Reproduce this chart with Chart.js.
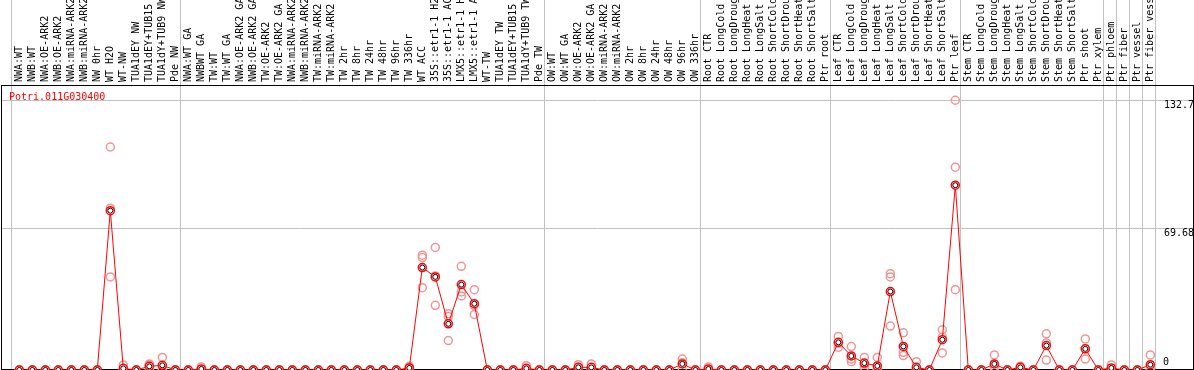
<!DOCTYPE html>
<html><head><meta charset="utf-8">
<script src="https://cdn.jsdelivr.net/npm/chart.js@4/dist/chart.umd.min.js"></script>
<style>html,body{margin:0;padding:0;background:#fff;overflow:hidden}canvas{display:block}</style>
</head><body>
<canvas id="c" width="1194" height="370"></canvas>
<script>
const geneName = 'Potri.011G030400';

const categories = [
  'NWA:WT','NWB:WT','NWA:OE-ARK2','NWB:OE-ARK2','NWA:miRNA-ARK2','NWB:miRNA-ARK2','NW 0hr','WT H2O','WT-NW','TUA1dEY NW','TUA1dEY+TUB15 NW','TUA1dY+TUB9 NW','Pde NW',
  'NWA:WT GA','NWBWT GA','TW:WT','TW:WT GA','NWA:OE-ARK2 GA','NWB:OE-ARK2 GA','TW:OE-ARK2','TW:OE-ARK2 GA','NWA:miRNA-ARK2','NWB:miRNA-ARK2','TW:miRNA-ARK2','TW:miRNA-ARK2 GA','TW 2hr','TW 8hr','TW 24hr','TW 48hr','TW 96hr','TW 336hr','WT ACC','35S::etr1-1 H2O','35S::etr1-1 ACC','LMX5::etr1-1 H2O','LMX5::etr1-1 ACC','WT-TW','TUA1dEY TW','TUA1dEY+TUB15 TW','TUA1dY+TUB9 TW','Pde TW',
  'OW:WT','OW:WT GA','OW:OE-ARK2','OW:OE-ARK2 GA','OW:miRNA-ARK2','OW:miRNA-ARK2 GA','OW 2hr','OW 8hr','OW 24hr','OW 48hr','OW 96hr','OW 336hr',
  'Root CTR','Root LongCold','Root LongDrought','Root LongHeat','Root LongSalt','Root ShortCold','Root ShortDrought','Root ShortHeat','Root ShortSalt','Ptr root',
  'Leaf CTR','Leaf LongCold','Leaf LongDrought','Leaf LongHeat','Leaf LongSalt','Leaf ShortCold','Leaf ShortDrought','Leaf ShortHeat','Leaf ShortSalt','Ptr leaf',
  'Stem CTR','Stem LongCold','Stem LongDrought','Stem LongHeat','Stem LongSalt','Stem ShortCold','Stem ShortDrought','Stem ShortHeat','Stem ShortSalt','Ptr shoot','Ptr xylem',
  'Ptr phloem','Ptr fiber','Ptr vessel','Ptr fiber vessel'
];

const meanValues = [
  0,0,0,0,0,0,0,78.4,0.8,0,1.8,2.3,0,
  0,0.5,0,0,0,0,0,0,0,0,0,0,0,0,0,0,0,1.0,50.4,45.8,22.7,42.0,32.6,0,0,0,0.8,0,
  0,0,1.3,1.3,0,0,0,0,0,0,3.0,0,
  0.5,0,0,0,0,0,0,0,0,0,
  13.6,6.9,3.4,2.0,38.6,11.6,1.3,0,14.9,90.9,
  0,0,3.0,0,1.3,0,12.0,0,0,10.4,0,
  1.0,0,0,2.6
];

const rep1 = [
  0,0,0,0,0,0,0,109.7,2.5,0,3.0,6.2,0,
  0,1.5,0,0,0,0,0,0,0,0,0,0,0,0,0,0,0,1.8,56.5,60.3,27.7,51.0,39.5,0,0,0,2.1,0,
  0,0,2.6,3.0,0,0,0,0,0,0,5.4,0,
  1.5,0,0,0,0,0,0,0,0,0,
  16.5,11.5,6.2,6.2,47.4,18.3,4.1,0,19.8,132.7,
  0,0,7.4,0,1.9,0,17.8,0,0,15.3,0,
  2.5,0,0,7.4
];
const rep2 = [
  0,0,0,0,0,0,0,79.6,0,0,2.4,0.6,0,
  0,0,0,0,0,0,0,0,0,0,0,0,0,0,0,0,0,1.2,55.3,46.3,26.3,38.4,31.8,0,0,0,0.3,0,
  0,0,1.3,0.9,0,0,0,0,0,0,3.6,0,
  0,0,0,0,0,0,0,0,0,0,
  13.1,5.4,2.8,0,45.8,8.7,0,0,16.1,99.8,
  0,0,1.6,0,1.3,0,13.3,0,0,10.4,0,
  0.5,0,0,0.4
];
const rep3 = [
  0,0,0,0,0,0,0,45.8,0,0,0,0,0,
  0,0,0,0,0,0,0,0,0,0,0,0,0,0,0,0,0,0,40.5,31.8,14.5,36.4,27.3,0,0,0,0,0,
  0,0,0,0,0,0,0,0,0,0,0,0,
  0,0,0,0,0,0,0,0,0,0,
  11.2,4.1,1.3,0,21.6,7.1,0,0,8.4,39.5,
  0,0,0,0,0.7,0,4.9,0,0,5.4,0,
  0,0,0,0
];

const yTickValues = [69.68, 132.7];
const yZeroTick = [0];
const groupStarts = [0,13,41,53,63,73,84,85,86,87,88];

const X_MIN = -1.408, X_MAX = 90.36, GRID_SHIFT = 0.63, LABEL_SHIFT = -0.92;
const Y_MIN = 0, Y_MAX = 140.2;
const MONO = "'DejaVu Sans Mono', monospace";

const pts = arr => arr.map((v, i) => ({x: i, y: v}));
const noPad = s => { s.paddingLeft = 0; s.paddingRight = 0; s.paddingTop = 0; s.paddingBottom = 0; };
const alignPx = p => Math.round(p - 0.5) + 0.5;

const decor = {
  id: 'decor',
  beforeDatasetsDraw(chart) {
    const {ctx, chartArea: a, scales} = chart;
    ctx.save();
    ctx.strokeStyle = '#c0c0c0';
    ctx.lineWidth = 1;
    groupStarts.forEach(g => {
      const px = alignPx(scales.x.getPixelForValue(g - GRID_SHIFT));
      ctx.beginPath(); ctx.moveTo(px, 0); ctx.lineTo(px, a.top); ctx.stroke();
    });
    ctx.strokeStyle = '#000';
    ctx.strokeRect(a.left + 0.5, a.top + 0.5, a.right - a.left - 1, a.bottom - a.top - 1);
    ctx.restore();
  },
  afterDraw(chart) {
    const {ctx, chartArea: a} = chart;
    ctx.save();
    ctx.fillStyle = '#ff0000';
    ctx.font = '10px ' + MONO;
    ctx.textBaseline = 'alphabetic';
    ctx.textAlign = 'left';
    ctx.fillText(geneName, 9, a.top + 15);
    ctx.restore();
  }
};

new Chart(document.getElementById('c'), {
  type: 'line',
  data: {
    datasets: [
      { label: geneName + ' inner', data: pts(meanValues), showLine: false, order: 0,
        pointRadius: 2.5, pointBorderWidth: 1, pointBorderColor: '#000', pointBackgroundColor: 'rgba(0,0,0,0)' },
      { label: geneName, data: pts(meanValues), order: 1, borderColor: '#ff0000', borderWidth: 1, tension: 0,
        pointRadius: 4, pointBorderWidth: 1.5, pointBorderColor: '#ff0000', pointBackgroundColor: '#ffffff' },
      { label: 'rep1', data: pts(rep1), showLine: false, order: 2,
        pointRadius: 4, pointBorderWidth: 1.5, pointBorderColor: '#ee9696', pointBackgroundColor: 'rgba(0,0,0,0)' },
      { label: 'rep2', data: pts(rep2), showLine: false, order: 2,
        pointRadius: 4, pointBorderWidth: 1.5, pointBorderColor: '#ee9696', pointBackgroundColor: 'rgba(0,0,0,0)' },
      { label: 'rep3', data: pts(rep3), showLine: false, order: 2,
        pointRadius: 4, pointBorderWidth: 1.5, pointBorderColor: '#ee9696', pointBackgroundColor: 'rgba(0,0,0,0)' }
    ]
  },
  options: {
    responsive: false,
    animation: false,
    events: [],
    devicePixelRatio: 1,
    layout: { autoPadding: false, padding: { left: 1, right: 0, top: 0, bottom: 0 } },
    plugins: { legend: { display: false }, tooltip: { enabled: false } },
    scales: {
      x: {
        type: 'linear', position: 'bottom', min: X_MIN, max: X_MAX,
        afterBuildTicks: s => { s.ticks = groupStarts.map(g => ({ value: g - GRID_SHIFT })); },
        afterFit: s => { s.height = 0; noPad(s); },
        ticks: { display: false },
        grid: { color: '#c0c0c0', lineWidth: 1, drawTicks: false },
        border: { display: false }
      },
      xTop: {
        type: 'linear', position: 'top', min: X_MIN + LABEL_SHIFT, max: X_MAX + LABEL_SHIFT,
        afterBuildTicks: s => { s.ticks = categories.map((_, i) => ({ value: i })); },
        afterFit: s => { s.height = 85; noPad(s); },
        ticks: {
          autoSkip: false, minRotation: 90, maxRotation: 90, padding: 3, color: '#000',
          font: { family: MONO, size: 10 },
          callback: (v, i) => categories[i]
        },
        grid: { display: false, drawTicks: false },
        border: { display: false }
      },
      y: {
        type: 'linear', position: 'right', min: Y_MIN, max: Y_MAX,
        afterBuildTicks: s => { s.ticks = yTickValues.map(v => ({ value: v })); },
        afterFit: s => { s.width = 0; noPad(s); },
        ticks: { mirror: true, crossAlign: 'far', padding: 0, labelOffset: 5.5, color: '#000',
          font: { family: MONO, size: 10 }, callback: v => String(v) },
        grid: { color: '#c0c0c0', lineWidth: 1, drawTicks: false },
        border: { display: false }
      },
      y0: {
        type: 'linear', position: 'right', min: Y_MIN, max: Y_MAX,
        afterBuildTicks: s => { s.ticks = yZeroTick.map(v => ({ value: v })); },
        afterFit: s => { s.width = 0; noPad(s); },
        ticks: { mirror: true, crossAlign: 'near', padding: -25, labelOffset: -8, color: '#000',
          font: { family: MONO, size: 10 }, callback: v => String(v) },
        grid: { display: false, drawTicks: false },
        border: { display: false }
      }
    }
  },
  plugins: [decor]
});
</script>
</body></html>
